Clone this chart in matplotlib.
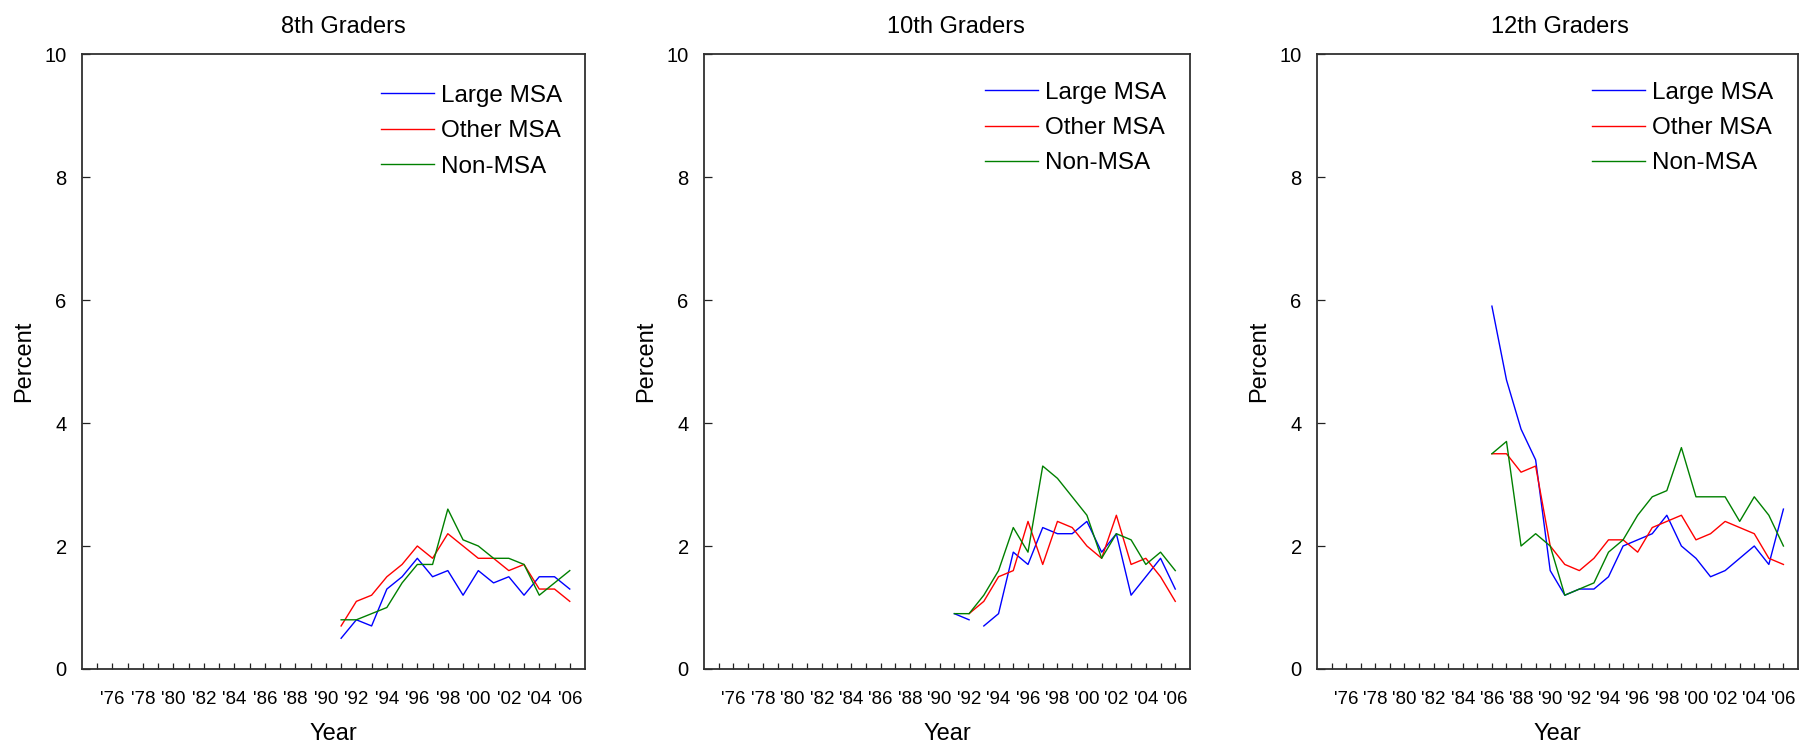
import matplotlib
matplotlib.use("Agg")
import matplotlib.pyplot as plt
import numpy as np

plt.rcParams['font.family'] = ['Liberation Sans', 'DejaVu Sans']

# ---------------- data ----------------
panel_titles = ["8th Graders", "10th Graders", "12th Graders"]
series_names = ["Large MSA", "Other MSA", "Non-MSA"]
series_colors = ["#0000ff", "#ff0000", "#008000"]

years_8 = list(range(1991, 2007))
large_8 = [0.5, 0.8, 0.7, 1.3, 1.5, 1.8, 1.5, 1.6, 1.2, 1.6, 1.4, 1.5, 1.2, 1.5, 1.5, 1.3]
other_8 = [0.7, 1.1, 1.2, 1.5, 1.7, 2.0, 1.8, 2.2, 2.0, 1.8, 1.8, 1.6, 1.7, 1.3, 1.3, 1.1]
non_8 = [0.8, 0.8, 0.9, 1.0, 1.4, 1.7, 1.7, 2.6, 2.1, 2.0, 1.8, 1.8, 1.7, 1.2, 1.4, 1.6]

years_10 = list(range(1991, 2007))
large_10 = [0.9, 0.8, 0.7, 0.9, 1.9, 1.7, 2.3, 2.2, 2.2, 2.4, 1.9, 2.2, 1.2, 1.5, 1.8, 1.3]
other_10 = [None, 0.9, 1.1, 1.5, 1.6, 2.4, 1.7, 2.4, 2.3, 2.0, 1.8, 2.5, 1.7, 1.8, 1.5, 1.1]
non_10 = [0.9, 0.9, 1.2, 1.6, 2.3, 1.9, 3.3, 3.1, 2.8, 2.5, 1.8, 2.2, 2.1, 1.7, 1.9, 1.6]
# the Large MSA line for 10th graders is not joined between these two years
large_10_break = (1992, 1993)

years_12 = list(range(1986, 2007))
large_12 = [5.9, 4.7, 3.9, 3.4, 1.6, 1.2, 1.3, 1.3, 1.5, 2.0, 2.1, 2.2, 2.5, 2.0, 1.8, 1.5, 1.6, 1.8, 2.0, 1.7, 2.6]
other_12 = [3.5, 3.5, 3.2, 3.3, 2.0, 1.7, 1.6, 1.8, 2.1, 2.1, 1.9, 2.3, 2.4, 2.5, 2.1, 2.2, 2.4, 2.3, 2.2, 1.8, 1.7]
non_12 = [3.5, 3.7, 2.0, 2.2, 2.0, 1.2, 1.3, 1.4, 1.9, 2.1, 2.5, 2.8, 2.9, 3.6, 2.8, 2.8, 2.8, 2.4, 2.8, 2.5, 2.0]

tick_years = list(range(1975, 2007))
tick_labels = ["'%02d" % (y % 100) if y % 2 == 0 else "" for y in tick_years]
y_ticks = [0, 2, 4, 6, 8, 10]

panels = [
    (years_8, [large_8, other_8, non_8], None),
    (years_10, [large_10, other_10, non_10], large_10_break),
    (years_12, [large_12, other_12, non_12], None),
]

# ---------------- layout ----------------
W, H = 1816, 749
fig = plt.figure(figsize=(W / 100, H / 100), dpi=100)
axes_px = [(82, 585), (704, 1190), (1317, 1798)]
top_px, bot_px = 54, 669
legend_anchor = [(0.955, 0.950), (0.951, 0.955), (0.948, 0.955)]
title_x = [0.52, 0.518, 0.505]


def segments(years, vals, brk):
    """Split a series into continuous runs (skip None, and the break)."""
    runs, cur = [], []
    for y, v in zip(years, vals):
        if v is None:
            if cur:
                runs.append(cur)
            cur = []
            continue
        if brk is not None and y == brk[1] and cur:
            runs.append(cur)
            cur = []
        cur.append((y, v))
    if cur:
        runs.append(cur)
    return runs


for i, (years, data, brk) in enumerate(panels):
    l, r = axes_px[i]
    ax = fig.add_axes([l / W, 1 - bot_px / H, (r - l) / W, (bot_px - top_px) / H])
    for j, (vals, name, col) in enumerate(zip(data, series_names, series_colors)):
        b = brk if j == 0 else None
        for k, run in enumerate(segments(years, vals, b)):
            xs = [p[0] for p in run]
            ys = [p[1] for p in run]
            ax.plot(xs, ys, color=col, lw=1.0, label=name if k == 0 else None)

    ax.set_xlim(1974, 2007)
    ax.set_ylim(0, 10)
    ax.set_xticks(tick_years)
    ax.set_xticklabels(tick_labels, fontsize=13.5)
    ax.set_yticks(y_ticks)
    ax.set_yticklabels([str(v) for v in y_ticks], fontsize=14.5)
    ax.tick_params(axis='x', direction='in', length=4.5, width=0.9, pad=16, colors='#222222', labelcolor='black')
    ax.tick_params(axis='y', direction='in', length=5.5, width=0.9, pad=11, colors='#222222', labelcolor='black')
    for s in ax.spines.values():
        s.set_linewidth(1.3)
        s.set_color('#303030')

    ax.set_title(panel_titles[i], fontsize=17, pad=15, x=title_x[i])
    ax.set_xlabel("Year", fontsize=17, labelpad=11)
    ax.set_ylabel("Percent", fontsize=17, labelpad=7)

    leg = ax.legend(loc='upper right', bbox_to_anchor=legend_anchor[i], frameon=False,
                    fontsize=17.5, handlelength=2.2, handletextpad=0.28,
                    labelspacing=0.55, borderpad=0, borderaxespad=0)

fig.savefig("out.png", dpi=100)
